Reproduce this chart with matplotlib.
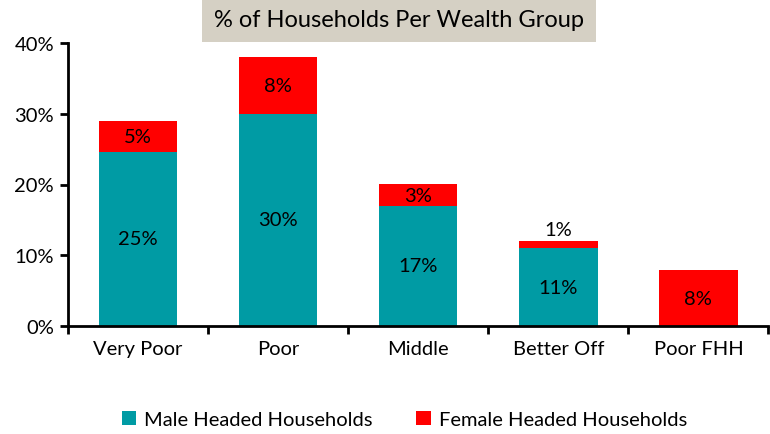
import numpy as np
import matplotlib.pyplot as plt

plt.rcParams['font.family'] = ['Lato', 'DejaVu Sans']

# data (% of households)
groups = ['Very Poor', 'Poor', 'Middle', 'Better Off', 'Poor FHH']
male = [24.6, 30.0, 17.0, 11.0, 0.0]
female = [4.4, 8.0, 3.0, 1.0, 7.9]
male_labels = ['25%', '30%', '17%', '11%', '']
female_labels = ['5%', '8%', '3%', '1%', '8%']

teal = '#009BA4'
red = '#FF0000'
fs = 14.5

fig = plt.figure(figsize=(7.7, 4.35), dpi=100)
ax = fig.add_axes([68 / 770, 1 - 327 / 435, 1 - 68 / 770 - 0.002, (327 - 44) / 435])

x = np.arange(len(groups))
w = 0.56
ax.bar(x, male, width=w, color=teal, label='Male Headed Households')
ax.bar(x, female, width=w, bottom=male, color=red, label='Female Headed Households')

for i in range(len(groups)):
    if male_labels[i]:
        ax.text(x[i], male[i] / 2, male_labels[i], ha='center', va='center', fontsize=fs)
    if female[i] < 2:
        # too thin, put label above bar
        ax.text(x[i], male[i] + female[i] + 0.5, female_labels[i], ha='center', va='bottom', fontsize=fs)
    else:
        ax.text(x[i], male[i] + female[i] / 2, female_labels[i], ha='center', va='center', fontsize=fs)

ax.set_xlim(-0.5, len(groups) - 0.5)
ax.set_ylim(0, 40)
ax.set_yticks([0, 10, 20, 30, 40])
ax.set_yticklabels(['0%', '10%', '20%', '30%', '40%'], fontsize=fs)
ax.set_xticks(x)
ax.set_xticklabels(groups, fontsize=fs)
ax.tick_params(axis='x', length=0, pad=10)
ax.set_xticks(np.arange(len(groups) + 1) - 0.5, minor=True)
ax.tick_params(axis='x', which='minor', length=6, width=2, direction='out')
ax.tick_params(axis='y', length=6, width=2, direction='out', pad=4)

for s in ['top', 'right']:
    ax.spines[s].set_visible(False)
ax.spines['left'].set_linewidth(2)
ax.spines['bottom'].set_linewidth(2)

fig.text(0.5185, 0.952, '% of Households Per Wealth Group', ha='center', va='center', fontsize=17,
         bbox=dict(boxstyle='square,pad=0.5', facecolor='#D5D0C4', edgecolor='none'))

ax.legend(loc='center', bbox_to_anchor=(0.5 - 0.02, -0.33), ncol=2, frameon=False, fontsize=fs,
          handlelength=0.7, handleheight=0.7, handletextpad=0.4, columnspacing=2.2)

fig.savefig('out.png', dpi=100)
